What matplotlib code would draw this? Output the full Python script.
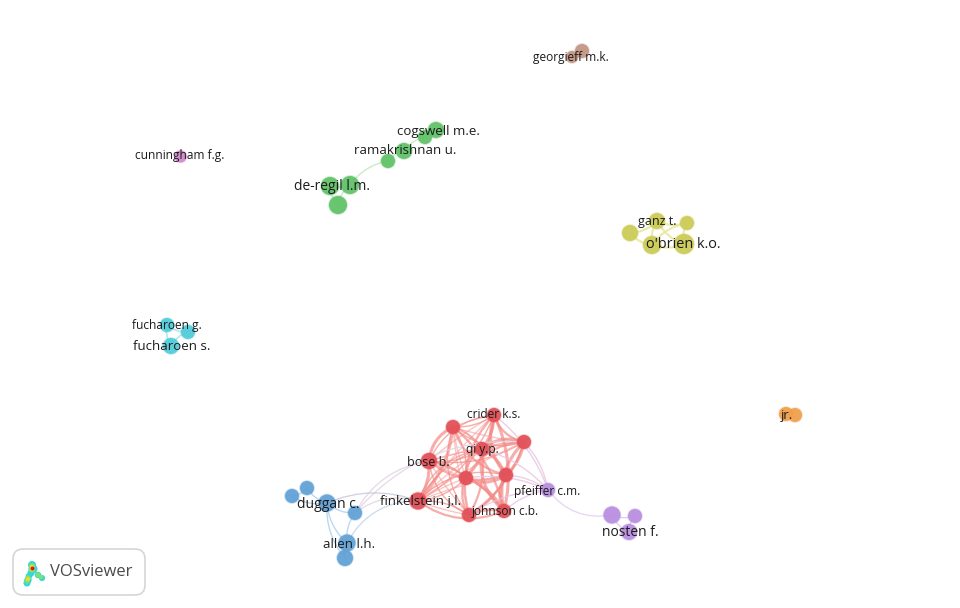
import matplotlib
matplotlib.use('Agg')
import matplotlib.pyplot as plt
from matplotlib.patches import FancyArrowPatch, FancyBboxPatch

plt.rcParams['font.family'] = ['Open Sans', 'DejaVu Sans']

# node positions (pixels), radius, per cluster
red_x = [494, 453, 524, 482, 429, 466, 506, 418, 469, 504]
red_y = [415, 427, 442, 449, 461, 478, 475, 501, 515, 511]
red_r = [7, 7, 7, 7, 8, 7, 7, 8.5, 7, 7]
blue_x = [292, 307, 327, 355, 347, 345]
blue_y = [496, 488, 503, 513, 543, 558]
blue_r = [7, 7, 8.5, 7, 8.5, 8]
purple_x = [548, 612, 635, 629]
purple_y = [490, 515, 516, 532]
purple_r = [7, 8.5, 7, 8]
green_x = [436, 425, 404, 388, 330, 350, 338]
green_y = [130, 137, 151, 161, 186, 185, 205]
green_r = [8, 7, 8, 7, 9, 9, 9]
yellow_x = [630, 657, 687, 652, 684]
yellow_y = [233, 221, 223, 245, 244]
yellow_r = [8, 8, 7, 9, 10]
cyan_x = [167, 188, 171]
cyan_y = [325, 332, 346]
cyan_r = [7, 7, 8]
brown_x = [582, 572]
brown_y = [51, 57]
brown_r = [7, 6]
pink_x = [180]
pink_y = [156]
pink_r = [6]
orange_x = [786, 795]
orange_y = [414, 415]
orange_r = [7, 7]

clusters = {
    'red': (red_x, red_y, red_r, '#e25058'),
    'blue': (blue_x, blue_y, blue_r, '#62a2d6'),
    'purple': (purple_x, purple_y, purple_r, '#b98fe0'),
    'green': (green_x, green_y, green_r, '#62c26a'),
    'yellow': (yellow_x, yellow_y, yellow_r, '#cccc58'),
    'cyan': (cyan_x, cyan_y, cyan_r, '#52ccda'),
    'brown': (brown_x, brown_y, brown_r, '#c49684'),
    'pink': (pink_x, pink_y, pink_r, '#d388ce'),
    'orange': (orange_x, orange_y, orange_r, '#f0a04c'),
}

# links as node indexes inside a cluster
red_links = [(a, b) for a in range(10) for b in range(a + 1, 10)]
blue_links = [(0, 1), (0, 2), (1, 2), (2, 3), (2, 4), (3, 4), (4, 5), (2, 5)]
purple_links = [(1, 2), (1, 3), (2, 3)]
green_links = [(0, 1), (1, 2), (2, 3), (3, 5), (4, 5), (4, 6), (5, 6)]
yellow_links = [(0, 1), (0, 3), (1, 3), (1, 4), (2, 3), (2, 4), (3, 4), (1, 2)]
cyan_links = [(0, 1), (0, 2), (1, 2)]

labels = [
    ('georgieff m.k.', 571, 57, 9), ('cogswell m.e.', 438, 131, 10),
    ('ramakrishnan u.', 405, 151, 10), ('de-regil l.m.', 332, 187, 10.5),
    ('cunningham f.g.', 180, 156, 9), ("o'brien k.o.", 683, 245, 11),
    ('ganz t.', 657, 221, 9.5), ('fucharoen g.', 167, 325, 9),
    ('fucharoen s.', 172, 347, 10), ('crider k.s.', 494, 415, 9),
    ('qi y.p.', 482, 450, 9), ('bose b.', 428, 462, 9.5),
    ('pfeiffer c.m.', 547, 491, 9), ('finkelstein j.l.', 421, 501, 10),
    ('johnson c.b.', 505, 512, 9), ('duggan c.', 328, 504, 10.5),
    ('allen l.h.', 349, 544, 10), ('nosten f.', 630, 532, 10.5),
    ('jr.', 787, 415, 10),
]

# badge logo blobs: outer to inner layers
logo_x = [[32, 33, 31, 29, 28, 27, 38, 42], [32, 32, 28, 27, 38, 41], [32, 32, 28], [32]]
logo_y = [[565, 569, 573, 576, 580, 583, 575, 578], [566, 569, 578, 581, 575, 577], [567, 569, 579], [568]]
logo_s = [[34, 42, 26, 22, 28, 26, 22, 20], [18, 24, 16, 14, 12, 10], [10, 10, 9], [8]]
logo_col = ['#35d8d8', '#7fe070', '#f0d830', '#d81818']

fig = plt.figure(figsize=(9.6, 6.08), dpi=100)
ax = fig.add_axes([0, 0, 1, 1])
ax.set_xlim(0, 960)
ax.set_ylim(608, 0)
ax.axis('off')


def link(p, q, color, lw, alpha, rad=0.2):
    ax.add_patch(FancyArrowPatch(p, q, arrowstyle='-', shrinkA=0, shrinkB=0,
                                 connectionstyle='arc3,rad=%s' % rad,
                                 color=color, lw=lw, alpha=alpha, zorder=1))


for n, (a, b) in enumerate(red_links):
    link((red_x[a], red_y[a]), (red_x[b], red_y[b]), '#f48a86', 1.0 + (n % 3) * 0.6, 0.7,
         0.28 if n % 2 else -0.18)
    if n % 3 == 0:
        link((red_x[a], red_y[a]), (red_x[b], red_y[b]), '#f6a09c', 1.0, 0.6, 0.05)
for a, b in blue_links:
    link((blue_x[a], blue_y[a]), (blue_x[b], blue_y[b]), '#a9cfee', 1.0, 0.8)
for a, b in purple_links:
    link((purple_x[a], purple_y[a]), (purple_x[b], purple_y[b]), '#d8c2ee', 1.0, 0.8)
for a, b in green_links:
    link((green_x[a], green_y[a]), (green_x[b], green_y[b]), '#c4e8c4', 1.0, 0.9)
for a, b in yellow_links:
    link((yellow_x[a], yellow_y[a]), (yellow_x[b], yellow_y[b]), '#e8e8a0', 1.5, 0.9)
for a, b in cyan_links:
    link((cyan_x[a], cyan_y[a]), (cyan_x[b], cyan_y[b]), '#a8e6ec', 1.2, 0.9)

# links between clusters
for a in [2, 4, 7]:
    link((blue_x[3], blue_y[3]), (red_x[a], red_y[a]), '#e0d4e2', 1.0, 0.8, -0.25)
link((blue_x[2], blue_y[2]), (red_x[7], red_y[7]), '#c4c8e0', 1.0, 0.8, -0.2)
link((blue_x[4], blue_y[4]), (red_x[7], red_y[7]), '#c4d4ea', 1.0, 0.8, -0.3)
for a in [0, 2, 3, 5, 6, 8, 9]:
    link((purple_x[0], purple_y[0]), (red_x[a], red_y[a]), '#e6c4e2', 1.0, 0.8, 0.15)
link((purple_x[0], purple_y[0]), (purple_x[1], purple_y[1]), '#e4d4f2', 1.0, 0.9, 0.3)

for name, (xs, ys, rs, col) in clusters.items():
    # soft rim, then body
    ax.scatter(xs, ys, s=[(2 * (r + 0.8) * 0.72) ** 2 for r in rs], c=col, alpha=0.35, linewidths=0, zorder=2)
    ax.scatter(xs, ys, s=[(2 * r * 0.72) ** 2 for r in rs], c=col, alpha=0.92, linewidths=0, zorder=2)

for txt, x, y, size in labels:
    ax.text(x, y, txt, fontsize=size * 0.95, color='#1c1c1c', ha='center', va='center', zorder=3)

# VOSviewer badge
ax.add_patch(FancyBboxPatch((13, 549), 132, 46, boxstyle='round,pad=0,rounding_size=10',
                            fc='white', ec='#d6d6d6', lw=1.2, zorder=4))
for xs, ys, ss, col in zip(logo_x, logo_y, logo_s, logo_col):
    ax.scatter(xs, ys, s=ss, c=col, linewidths=0, zorder=5)
ax.text(50, 572, 'VOSviewer', fontsize=12, color='#4a4a4a', ha='left', va='center', zorder=5)

fig.savefig('out.png', dpi=100)
